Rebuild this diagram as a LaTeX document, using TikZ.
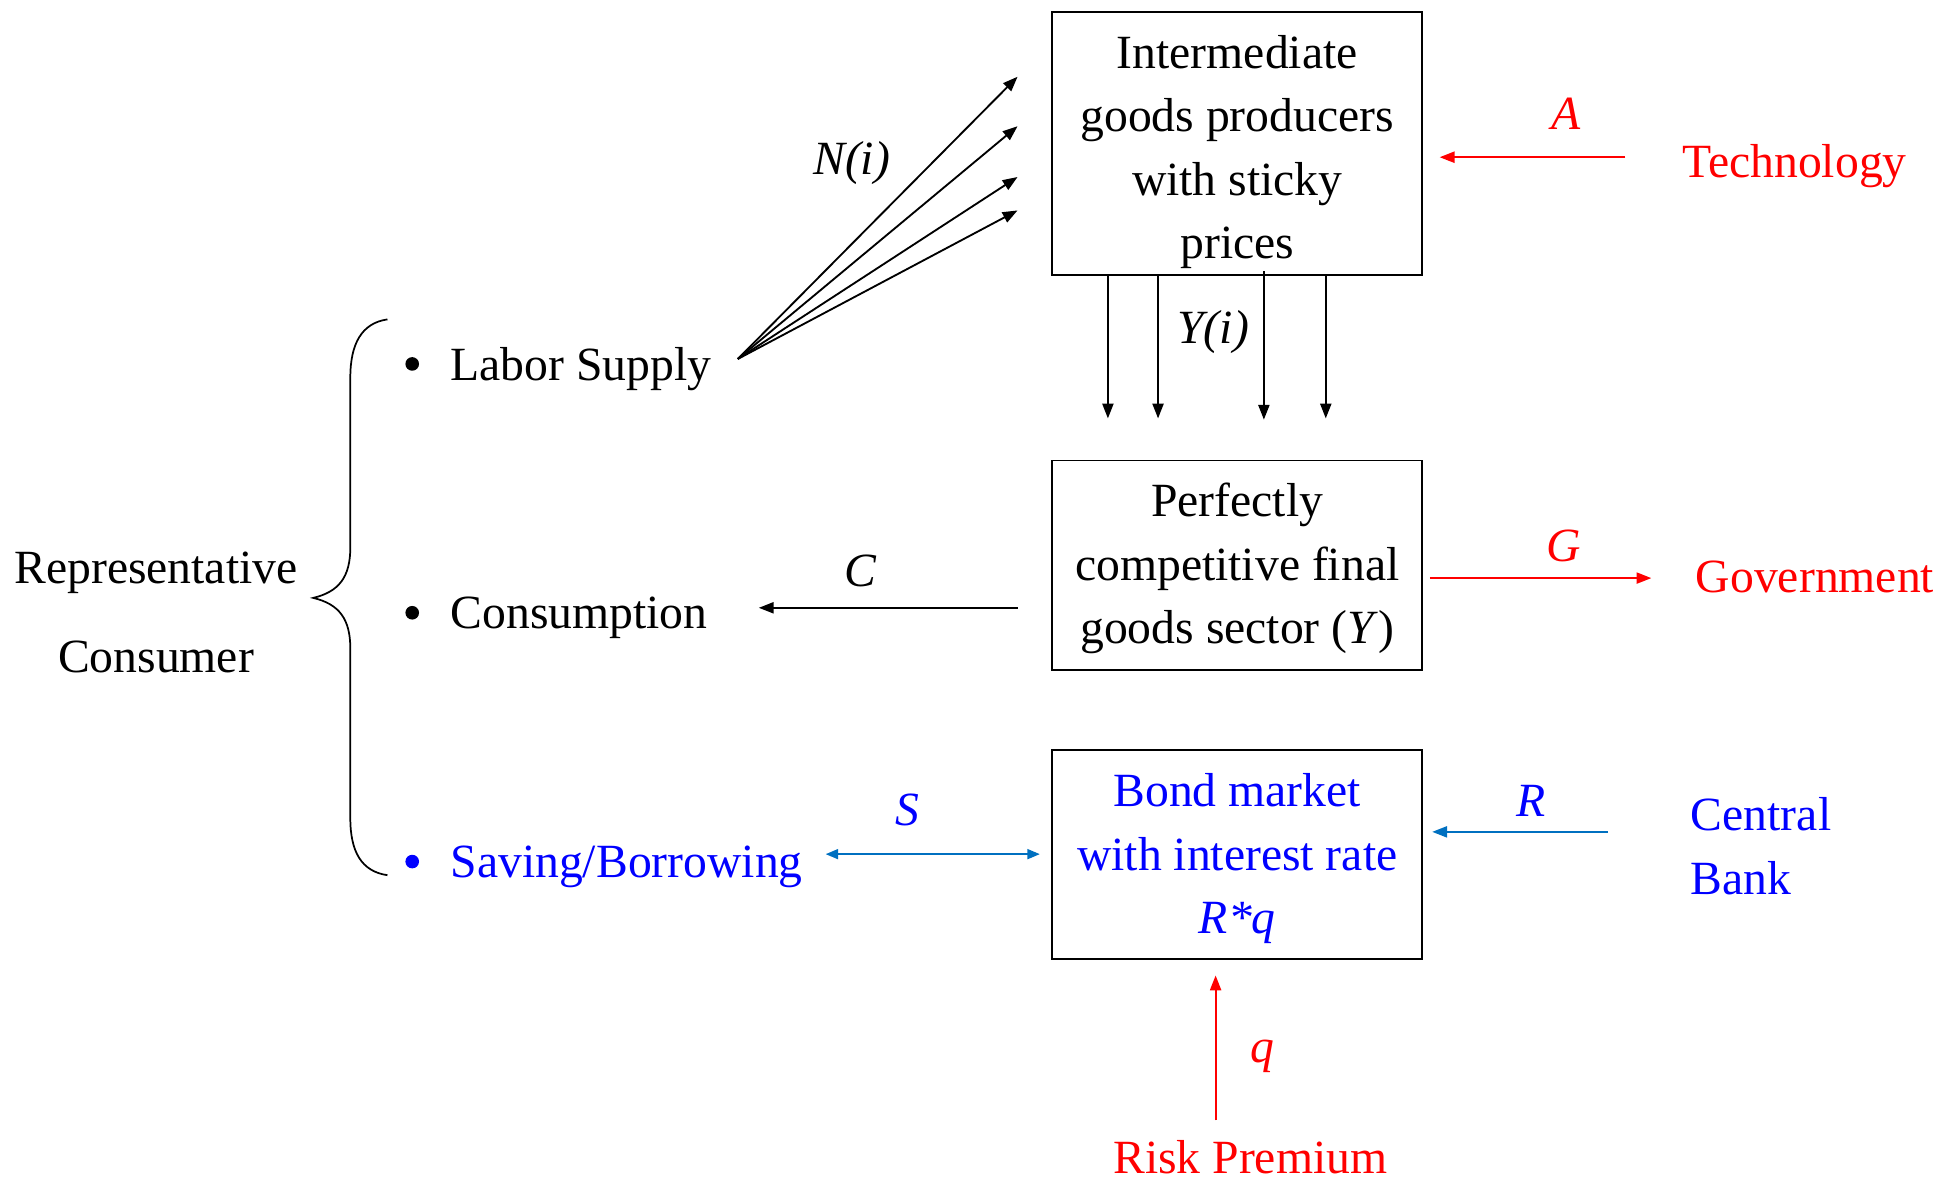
\documentclass[tikz,border=0pt]{standalone}
\usepackage{fontspec}
\setmainfont{Liberation Serif}
\usetikzlibrary{arrows.meta}
\definecolor{tred}{RGB}{255,0,0}
\definecolor{tblue}{RGB}{0,0,255}
\definecolor{ablue}{RGB}{0,112,192}
\begin{document}
\begin{tikzpicture}[x=1pt,y=-1pt,
  every node/.style={inner sep=0pt, outer sep=0pt},
  txt/.style={font=\fontsize{38.5}{51.3}\selectfont, align=center},
  boxnode/.style={draw=black, line width=1.5pt, minimum width=299pt},
  lbl/.style={font=\fontsize{38.5}{46}\selectfont\itshape},
  dotnode/.style={circle, fill=black, minimum size=11pt},
  arr/.style={line width=1.5pt, -{Triangle[length=12pt,width=9pt]}},
  darr/.style={line width=1.5pt, {Triangle[length=10pt,width=8pt]}-{Triangle[length=10pt,width=8pt]}}
]
\useasboundingbox (0,0) rectangle (1568,955);

% boxes
\node[boxnode, minimum height=212pt] (ib) at (999.5,116) {};
\node[boxnode, minimum height=169pt] (pb) at (999.5,456.5) {};
\node[boxnode, minimum height=169pt] (bb) at (999.5,690.5) {};

\node[txt, anchor=north] (ibt) at (999.5,28.5) {Intermediate\\goods producers\\with sticky\\prices};
\node[txt, anchor=north] (pbt) at (999.5,390.5) {Perfectly\\competitive final\\goods sector (\textit{Y})};
\node[txt, anchor=north, text=tblue] (bbt) at (999.5,625) {Bond market\\with interest rate\\\textit{R*q}};

% consumer
\node[txt, font=\fontsize{38.5}{72}\selectfont] (rc) at (126,495) {Representative\\Consumer};
\draw[line width=1.4pt] (313,258) .. controls (292,261) and (283,278) .. (283,305)
  -- (283,442) .. controls (283,466) and (274,478) .. (253,483)
  .. controls (274,488) and (283,500) .. (283,524)
  -- (283,661) .. controls (283,688) and (292,704) .. (313,707);

\node[dotnode] (d1) at (333,294) {};
\node[dotnode] (d2) at (333,495) {};
\node[dotnode, fill=tblue] (d3) at (333,696) {};
\node[txt, anchor=base west] (ls) at (364,307) {Labor Supply};
\node[txt, anchor=base west] (cs) at (364,508) {Consumption};
\node[txt, anchor=base west, text=tblue] (sb) at (364,709) {Saving/Borrowing};

% labor fan
\coordinate (fan) at (596,290);
\coordinate (n1) at (822,62);
\coordinate (n2) at (822,102);
\coordinate (n3) at (822,143);
\coordinate (n4) at (822,170);
\draw[arr] (fan) -- (n1);
\draw[arr] (fan) -- (n2);
\draw[arr] (fan) -- (n3);
\draw[arr] (fan) -- (n4);
\node[lbl] (nl) at (688,132) {N(i)};

% Y(i) arrows
\coordinate (y1) at (895,338);
\coordinate (y2) at (935.5,338);
\coordinate (y3) at (1021,339);
\coordinate (y4) at (1071,338);
\draw[arr] (ib.south -| y1) -- (y1);
\draw[arr] (ib.south -| y2) -- (y2);
\draw[arr] ([yshift=3pt]ib.south -| y3) -- (y3);
\draw[arr] (ib.south -| y4) -- (y4);
\node[lbl] (yl) at (980,268) {Y(i)};

% technology
\node[txt, anchor=base west, text=tred] (tech) at (1359,143) {Technology};
\coordinate (ts) at (1313,127);
\coordinate (te) at (1163,127);
\draw[arr, tred] (ts) -- (te);
\node[lbl, text=tred] (al) at (1265,92) {A};

% consumption
\coordinate (cst) at (822,491);
\coordinate (cen) at (613,491);
\draw[arr] (cst) -- (cen);
\node[lbl] (cl) at (695,461) {C};

% government
\node[txt, anchor=base west, text=tred] (gov) at (1370,479) {Government};
\coordinate (gs) at (1155,467);
\coordinate (ge) at (1334,467);
\draw[arr, tred] (gs) -- (ge);
\node[lbl, text=tred] (gl) at (1263,441) {G};

% saving
\coordinate (ss) at (667,690);
\coordinate (se) at (840,690);
\draw[darr, ablue] (ss) -- (se);
\node[lbl, text=tblue] (sl) at (733,654) {S};

% central bank
\node[txt, anchor=north west, align=left, font=\fontsize{38.5}{52}\selectfont, text=tblue] (cb) at (1366,644) {Central\\Bank};
\coordinate (rs) at (1299,672);
\coordinate (re) at (1157,672);
\draw[arr, ablue] (rs) -- (re);
\node[lbl, text=tblue] (rl) at (1237,647) {R};

% risk premium
\node[txt, anchor=base, text=tred] (rp) at (1010,948) {Risk Premium};
\coordinate (qs) at (982,905);
\coordinate (qe) at (982,788);
\draw[arr, tred] (qs) -- (qe);
\node[lbl, text=tred] (ql) at (1020,853) {q};
\end{tikzpicture}
\end{document}
